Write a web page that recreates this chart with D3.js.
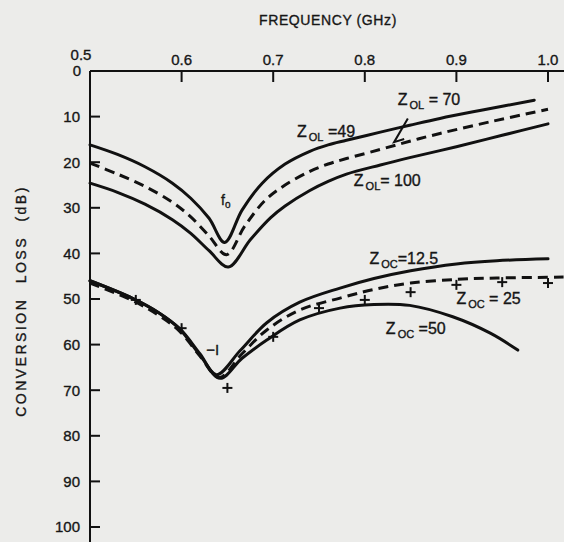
<!DOCTYPE html>
<html>
  <head>
    <script type="text/javascript" src="https://cdn.jsdelivr.net/npm/d3@7"></script>
    <style type="text/css">

html, body {
  margin: 0;
  background: #ececea;
}

svg {
  display: block;
  font-family: "Liberation Sans", Arial, sans-serif;
}

text {
  fill: #161616;
  stroke: #161616;
  stroke-width: 0.35;
}

.curve {
  fill: none;
  stroke: #111;
  stroke-width: 3;
  stroke-linejoin: round;
  stroke-linecap: round;
}

.dashed {
  stroke-dasharray: 10,6;
  stroke-linecap: butt;
}

    </style>
  </head>
  <body>
    <div id="chart"></div>
    <script type="text/javascript">

// frequency (GHz) vs conversion loss (dB)
var zol49 = [[0.50,16.2],[0.53,18.3],[0.56,21.0],[0.59,24.6],[0.61,27.9],[0.63,32.3],
  [0.647,37.6],[0.666,30.5],[0.688,24.6],[0.713,20.4],[0.74,17.6],[0.76,16.2],
  [0.78,15.2],[0.817,13.4],[0.849,11.9],[0.882,10.4],[0.93,8.5],[0.985,6.4]];
var zol70 = [[0.50,20.2],[0.53,22.6],[0.56,25.3],[0.59,28.8],[0.61,32.0],[0.63,36.2],
  [0.649,40.3],[0.669,34.0],[0.691,28.4],[0.713,25.0],[0.74,22.0],[0.76,20.4],
  [0.78,19.2],[0.817,17.2],[0.849,15.4],[0.882,13.7],[0.94,11.0],[1.00,8.4]];
var zol100 = [[0.50,24.6],[0.53,26.6],[0.56,29.2],[0.59,32.6],[0.61,35.6],[0.63,39.4],
  [0.651,43.0],[0.675,37.0],[0.697,32.2],[0.713,29.6],[0.74,26.2],[0.76,24.2],
  [0.78,22.6],[0.817,20.6],[0.849,19.0],[0.90,16.6],[0.95,14.1],[1.00,11.6]];

var zoc125 = [[0.50,46.0],[0.547,49.9],[0.575,53.0],[0.598,56.5],[0.62,62.0],[0.638,66.6],
  [0.664,61.3],[0.693,55.2],[0.729,50.7],[0.773,47.6],[0.81,45.5],[0.85,43.8],
  [0.90,42.3],[0.944,41.6],[1.00,41.2]];
var zoc25 = [[0.50,46.5],[0.547,50.4],[0.575,53.6],[0.598,57.1],[0.62,62.5],[0.641,67.2],
  [0.666,62.0],[0.693,56.8],[0.729,52.4],[0.773,49.8],[0.81,47.9],[0.85,46.5],
  [0.90,45.7],[0.944,45.4],[1.017,45.2]];
var zoc50 = [[0.50,46.0],[0.547,49.9],[0.575,53.0],[0.598,56.6],[0.62,62.3],[0.642,67.4],
  [0.666,63.0],[0.693,59.0],[0.729,54.6],[0.773,52.0],[0.81,51.2],[0.849,51.4],
  [0.896,53.9],[0.937,57.5],[0.967,61.2]];

var measured = [[0.55,50.2],[0.60,56.4],[0.65,69.5],[0.70,58.3],[0.75,52.0],[0.80,50.2],
  [0.85,48.5],[0.90,46.9],[0.95,46.3],[1.00,46.5]];

var xTicks = [0.5, 0.6, 0.7, 0.8, 0.9, 1.0];
var xTickLabels = ["0.5", "0.6", "0.7", "0.8", "0.9", "1.0"];
var yTicks = [0, 10, 20, 30, 40, 50, 60, 70, 80, 90, 100];

var labels = [
  {f: 0.836, db: 7.4, sub: "OL", rest: " = 70"},
  {f: 0.726, db: 14.4, sub: "OL", rest: " =49"},
  {f: 0.788, db: 25.3, sub: "OL", rest: "= 100"},
  {f: 0.805, db: 42.4, sub: "OC", rest: "=12.5"},
  {f: 0.900, db: 51.2, sub: "OC", rest: " = 25"},
  {f: 0.823, db: 57.6, sub: "OC", rest: " =50"}
];

var width = 564, height = 542;

var x = d3.scaleLinear().domain([0.5, 1.0]).range([90, 548]);
var y = d3.scaleLinear().domain([0, 100]).range([71, 527]);

var svg = d3.select("#chart").append("svg")
    .attr("width", width)
    .attr("height", height);

// axes: top frequency axis, left loss axis
svg.append("line")
    .attr("x1", x(0.5)).attr("x2", width)
    .attr("y1", y(0)).attr("y2", y(0))
    .attr("stroke", "#111").attr("stroke-width", 2);
svg.append("line")
    .attr("x1", x(0.5)).attr("x2", x(0.5))
    .attr("y1", y(0)).attr("y2", height)
    .attr("stroke", "#111").attr("stroke-width", 2);

svg.selectAll(".xt").data(xTicks.slice(1))
  .enter().append("line")
    .attr("x1", x).attr("x2", x)
    .attr("y1", y(0)).attr("y2", y(0) + 11)
    .attr("stroke", "#111").attr("stroke-width", 2);

svg.selectAll(".xl").data(xTicks)
  .enter().append("text")
    .attr("x", function(d, i) { return x(d) + (i == 0 ? -9 : 0); })
    .attr("y", function(d, i) { return i == 0 ? 60 : 65; })
    .attr("text-anchor", "middle")
    .style("font-size", "15px")
    .text(function(d, i) { return xTickLabels[i]; });

svg.selectAll(".yt").data(yTicks.slice(1))
  .enter().append("line")
    .attr("x1", x(0.5)).attr("x2", x(0.5) + 10)
    .attr("y1", y).attr("y2", y)
    .attr("stroke", "#111").attr("stroke-width", 2);

svg.selectAll(".yl").data(yTicks)
  .enter().append("text")
    .attr("x", function(d) { return d == 0 ? 81 : 80; })
    .attr("y", y)
    .attr("dy", "0.36em")
    .attr("text-anchor", "end")
    .style("font-size", "15px")
    .text(function(d) { return d; });

svg.append("text")
    .attr("x", 328).attr("y", 25)
    .attr("text-anchor", "middle")
    .style("font-size", "14px")
    .style("letter-spacing", "0.6px")
    .text("FREQUENCY (GHz)");

svg.append("text")
    .attr("transform", "translate(21,301) rotate(-90)")
    .attr("text-anchor", "middle")
    .attr("dy", "0.36em")
    .style("font-size", "14px")
    .style("letter-spacing", "2.5px")
    .style("word-spacing", "8px")
    .text("CONVERSION LOSS (dB)");

var line = d3.line()
    .x(function(d) { return x(d[0]); })
    .y(function(d) { return y(d[1]); })
    .curve(d3.curveCatmullRom.alpha(0.5));

var series = [
  {data: zol49, dashed: false},
  {data: zol70, dashed: true},
  {data: zol100, dashed: false},
  {data: zoc125, dashed: false},
  {data: zoc50, dashed: false},
  {data: zoc25, dashed: true}
];

svg.selectAll(".curve").data(series)
  .enter().append("path")
    .attr("class", function(d) { return d.dashed ? "curve dashed" : "curve"; })
    .attr("d", function(d) { return line(d.data); });

// measured points
var plus = svg.selectAll(".plus").data(measured)
  .enter().append("g")
    .attr("transform", function(d) { return "translate(" + x(d[0]) + "," + y(d[1]) + ")"; });
plus.append("line").attr("x1", -5).attr("x2", 5)
    .attr("stroke", "#111").attr("stroke-width", 2);
plus.append("line").attr("y1", -5).attr("y2", 5)
    .attr("stroke", "#111").attr("stroke-width", 2);

// curve labels
var lab = svg.selectAll(".lab").data(labels)
  .enter().append("text")
    .attr("x", function(d) { return x(d.f); })
    .attr("y", function(d) { return y(d.db); })
    .style("font-size", "16px");
lab.append("tspan").text("Z");
lab.append("tspan").attr("dx", 2).attr("dy", 4).style("font-size", "11px")
    .text(function(d) { return d.sub; });
lab.append("tspan").attr("dy", -4).style("font-size", "16px")
    .text(function(d) { return d.rest; });

var f0 = svg.append("text")
    .attr("x", x(0.643)).attr("y", y(29.4))
    .style("font-size", "14px");
f0.append("tspan").text("f");
f0.append("tspan").attr("dy", 3).style("font-size", "10px").text("o");

svg.append("text")
    .attr("x", x(0.627)).attr("y", y(62.2))
    .style("font-size", "15px")
    .text("\u2212I");

// leader for Z_OL = 70
svg.append("path")
    .attr("d", "M" + x(0.847) + "," + y(10.4) + "L" + x(0.832) + "," + y(15.6)
      + "L" + x(0.843) + "," + y(14.9))
    .attr("fill", "none")
    .attr("stroke", "#111")
    .attr("stroke-width", 2);

    </script>
  </body>
</html>
